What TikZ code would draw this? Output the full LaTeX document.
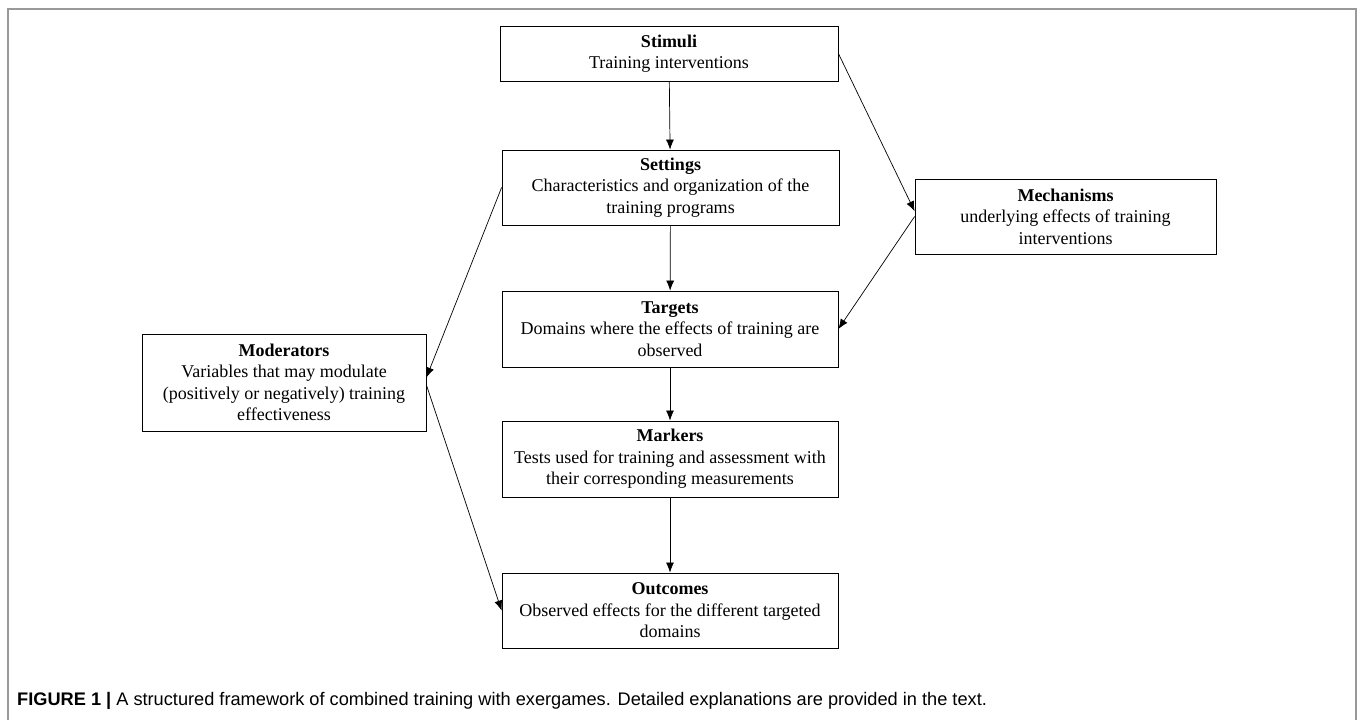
\documentclass[tikz,border=0pt]{standalone}
\usepackage{fontspec}
\setmainfont{Liberation Serif}
\newfontfamily\capfont{Liberation Sans}
\usetikzlibrary{arrows.meta}
\begin{document}
\begin{tikzpicture}[x=1pt,y=-1pt,
  stage/.style={draw,line width=0.8pt,align=center,inner sep=0pt,
    font=\fontsize{18}{21.5}\selectfont},
  link/.style={line width=0.7pt,-{Latex[length=10pt,width=8pt]}}]
\useasboundingbox (0,0) rectangle (1358,720);
\draw[line width=2pt,gray!80] (8,722)--(8,9)--(1356,9)--(1356,722);
\node[stage,minimum width=338pt,minimum height=55pt] (stimuli) at (669,53.5) {\textbf{Stimuli}\\Training interventions};
\node[stage,minimum width=337pt,minimum height=75pt] (settings) at (670.5,187.5) {\textbf{Settings}\\Characteristics and organization of the\\training programs};
\node[stage,minimum width=336pt,minimum height=76pt] (targets) at (670,329) {\textbf{Targets}\\Domains where the effects of training are\\observed};
\node[stage,minimum width=336pt,minimum height=76pt] (markers) at (670,459) {\textbf{Markers}\\Tests used for training and assessment with\\their corresponding measurements};
\node[stage,minimum width=336pt,minimum height=75pt] (outcomes) at (670,610.5) {\textbf{Outcomes}\\Observed effects for the different targeted\\domains};
\node[stage,minimum width=301pt,minimum height=75pt] (mechanisms) at (1065.5,216.5) {\textbf{Mechanisms}\\underlying effects of training\\interventions};
\node[stage,minimum width=284pt,minimum height=97pt] (moderators) at (284,382.5) {\textbf{Moderators}\\Variables that may modulate\\(positively or negatively) training\\effectiveness};
\draw[link] (stimuli) -- (settings);
\draw[link] (settings) -- (targets);
\draw[link] (targets) -- (markers);
\draw[link] (markers) -- (outcomes);
\draw[link] (stimuli.east) -- (mechanisms.178);
\draw[link] (mechanisms.west) -- (targets.east);
\draw[link] (settings.west) -- (moderators.2);
\draw[link] (moderators.-1) -- (outcomes.west);
\node[anchor=west,font=\capfont\fontsize{18.2}{21}\selectfont,inner sep=0pt] (caption) at (17,701) {\textbf{FIGURE 1 |} A structured framework of combined training with exergames. Detailed explanations are provided in the text.};
\end{tikzpicture}
\end{document}
